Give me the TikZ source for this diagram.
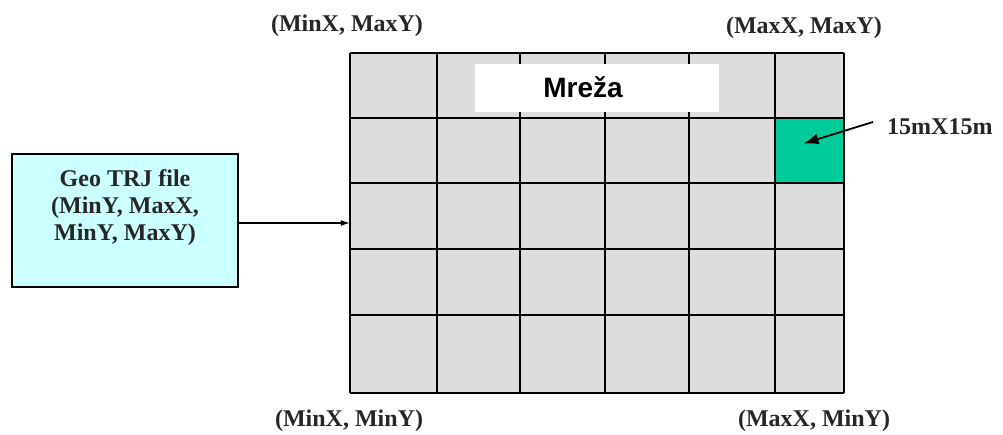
\documentclass[tikz,border=0pt]{standalone}
\usepackage{fontspec}
\setmainfont{Liberation Serif}
\newfontfamily\sansbold{Liberation Sans}
\usetikzlibrary{arrows.meta}
\definecolor{cellgray}{RGB}{221,221,221}
\definecolor{cellgreen}{RGB}{0,204,153}
\definecolor{geocyan}{RGB}{204,255,255}
\tikzset{
  lbl/.style={font=\fontsize{24}{27}\selectfont\bfseries, inner sep=0pt, text=black!85},
  gridline/.style={line width=2.6pt, black},
  conn/.style={line width=1.3pt, -{Latex[length=9pt,width=6pt]}},
  bigconn/.style={line width=1.8pt, -{Latex[length=15pt,width=11pt]}}
}
\begin{document}
\begin{tikzpicture}[x=1pt,y=-1pt]
\useasboundingbox (0,0) rectangle (1003,435);
% grid
\node[fill=cellgray, draw=none, inner sep=0pt, minimum width=494pt, minimum height=340pt] (grid) at (597,223) {};
\node[fill=cellgreen, inner sep=0pt, minimum width=69pt, minimum height=65pt] (cell) at (809.5,150.5) {};
\foreach \x in {350,437,520,605,689,775,844} \draw[gridline] (\x,53) -- (\x,393);
\foreach \y in {53,118,183,249,315,393} \draw[gridline] (350,\y) -- (844,\y);
% title box
\node[fill=white, inner sep=0pt, minimum width=244pt, minimum height=48pt] (titlebox) at (597,88) {};
\node[font=\sansbold\fontsize{28}{30}\selectfont\bfseries, inner sep=0pt] (title) at (583,87) {Mreža};
% corner labels
\node[lbl] (tl) at (347,26) {(MinX, MaxY)};
\node[lbl] (tr) at (804,28) {(MaxX, MaxY)};
\node[lbl] (bl) at (349,421) {(MinX, MinY)};
\node[lbl] (br) at (814,421) {(MaxX, MinY)};
% cell label
\node[lbl, anchor=west] (size) at (887,127) {15mX15m};
\draw[bigconn] (size.west) ++(-14pt,5pt) -- ([xshift=-6pt,yshift=7pt]cell.center);
% geo box
\node[fill=geocyan, draw=black, line width=2.2pt, inner sep=0pt, minimum width=226pt, minimum height=133pt] (geo) at (125,220.5) {};
\node[lbl, align=center] (geotext) at (125,208) {Geo TRJ file\\(MinY, MaxX,\\MinY, MaxY)};
\draw[conn] (geo.east |- grid.west) -- (grid.west);
\end{tikzpicture}
\end{document}
